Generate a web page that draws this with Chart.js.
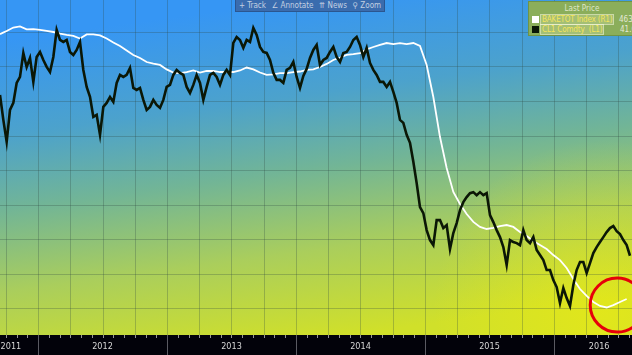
<!DOCTYPE html>
<html>
<head>
<meta charset="utf-8">
<script src="https://cdn.jsdelivr.net/npm/chart.js@4.4.0/dist/chart.umd.min.js"></script>
<style>
  html, body { margin: 0; padding: 0; background: #000; overflow: hidden; }
  #wrap { position: relative; width: 632px; height: 355px; overflow: hidden; }
  canvas { display: block; }
  .toolbar {
    position: absolute; left: 235px; top: 0; width: 150px; height: 12px;
    background: #3a6cae; border: 1px solid #2b5690; border-top: none; box-sizing: border-box;
    font: 8px "DejaVu Sans Condensed", "DejaVu Sans", sans-serif; color: #c3d0e2;
    display: flex; align-items: center; justify-content: space-around; white-space: nowrap;
  }
  .legend {
    position: absolute; left: 528px; top: 1px; width: 110px; height: 35px;
    background: #8bae5b; border: 1px solid #6f9446; box-sizing: border-box;
    font: 8px "DejaVu Sans Condensed", "DejaVu Sans", sans-serif; color: #dfe6c8;
  }
  .legend .lp { position: absolute; left: 0; width: 106px; top: 2px; text-align: center; }
  .legend .row { position: absolute; left: 3px; height: 9px; line-height: 9px; white-space: nowrap; }
  .legend .sw { position: absolute; left: 0; top: 1px; width: 7px; height: 7px; }
  .legend .nm {
    position: absolute; left: 9px; top: 0; padding: 0 1px; color: #f4e45a; letter-spacing: -0.15px;
    background: rgba(255,255,215,0.22); outline: 1px solid rgba(255,255,230,0.55);
  }
  .legend .val { position: absolute; top: 0; color: #e4e8d6; }
</style>
</head>
<body>
<div id="wrap">
  <canvas id="chart" width="632" height="355"></canvas>
  <div class="toolbar"><span>+ Track</span><span>&#8736; Annotate</span><span>&#8648; News</span><span>&#9906; Zoom</span></div>
  <div class="legend">
    <div class="lp">Last Price</div>
    <div class="row" style="top:13px"><span class="sw" style="background:#fff"></span><span class="nm">BAKETOT Index&nbsp;(R1)</span><span class="val" style="left:87px">463</span></div>
    <div class="row" style="top:23px"><span class="sw" style="background:#0b1706"></span><span class="nm">CL1 Comdty&nbsp;&nbsp;(L1)</span><span class="val" style="left:88px">41.6</span></div>
  </div>
</div>
<script>
// time axis, decimal years (left edge ~ mid Sept 2011)
const xMin = 2011.7054;
const xMax = 2016.6047;

// CL1 Comdty (WTI front month, USD) - one reading every ~9.4 days
const oilStart = 2011.7054;
const oilStep = 0.02584;
const oilPrice = [
  89.9, 82.4, 75.8, 85.4, 87.5, 93.5, 95.3, 102.5, 98.3, 101.0,
  93.8, 101.3, 102.8, 100.4, 98.3, 96.8, 101.3, 109.4, 106.4, 105.8,
  106.4, 102.8, 101.9, 103.4, 105.8, 97.4, 92.3, 89.3, 83.3, 83.9,
  77.9, 86.3, 87.5, 89.3, 87.8, 93.5, 95.9, 95.3, 95.9, 98.0,
  92.0, 91.4, 92.0, 88.4, 85.4, 86.3, 88.4, 86.9, 86.0, 88.4,
  92.3, 92.9, 95.9, 97.4, 96.5, 95.9, 92.3, 90.5, 92.9, 95.9,
  93.5, 88.4, 92.3, 95.9, 96.5, 95.3, 92.9, 95.9, 97.4, 95.9,
  105.5, 107.3, 106.4, 104.0, 106.4, 105.8, 110.0, 107.9, 104.3, 102.8,
  102.5, 100.4, 96.5, 94.4, 94.4, 93.5, 97.4, 98.0, 99.8, 95.3,
  92.0, 95.6, 97.7, 101.0, 103.4, 104.9, 98.9, 100.4, 101.0, 102.8,
  104.3, 101.3, 99.8, 102.5, 102.8, 104.3, 106.4, 107.3, 104.9, 101.3,
  104.0, 99.5, 97.4, 95.9, 93.8, 93.8, 92.3, 93.8, 90.8, 87.5,
  82.4, 81.5, 77.9, 75.5, 69.8, 63.4, 56.2, 54.4, 49.3, 46.3,
  44.8, 52.3, 52.3, 49.9, 50.8, 43.6, 48.4, 51.4, 55.3, 57.7,
  59.2, 60.4, 60.7, 59.8, 60.7, 59.8, 60.4, 53.8, 51.7, 49.3,
  47.2, 44.2, 38.8, 46.3, 45.7, 45.4, 44.8, 49.3, 46.3, 45.4,
  47.2, 43.3, 41.8, 40.3, 37.3, 37.3, 34.3, 32.2, 27.4, 31.9,
  28.9, 26.5, 32.8, 37.3, 39.7, 39.7, 36.4, 39.4, 42.4, 44.2,
  45.7, 47.2, 48.7, 49.9, 50.5, 49.0, 48.1, 46.3, 44.8, 41.6
];

// BAKETOT Index (Baker Hughes total rig count) - one reading every ~19 days
const rigStart = 2011.7054;
const rigStep = 0.05168;
const rigCount = [
  1988, 2006, 2026, 2032, 2015, 2017, 2012, 2006, 2000, 1991,
  1983, 1977, 1962, 1986, 1986, 1980, 1962, 1939, 1919, 1893,
  1867, 1849, 1826, 1817, 1809, 1783, 1765, 1762, 1768, 1777,
  1765, 1774, 1774, 1768, 1768, 1768, 1777, 1794, 1783, 1765,
  1751, 1754, 1762, 1762, 1768, 1771, 1780, 1783, 1797, 1815,
  1838, 1852, 1867, 1872, 1878, 1899, 1913, 1925, 1936, 1930,
  1936, 1930, 1936, 1919, 1809, 1623, 1391, 1212, 1073, 1003,
  945, 899, 870, 858, 864, 875, 881, 870, 841, 817,
  788, 765, 742, 707, 678, 632, 568, 510, 470, 435,
  412, 403, 417, 435, 452
];

// axis ranges (both value axes hidden, as in the terminal screenshot)
const oilMin = 17.8, oilMax = 118.4;
const rigMin = 243.5, rigMax = 2185.5;
const rigGrid = [400, 600, 800, 1000, 1200, 1400, 1600, 1800, 2000];

// x axis labels
const yearLabels = ['2011', '2012', '2013', '2014', '2015', '2016'];
const yearLabelPos = [2011.79, 2012.5, 2013.5, 2014.5, 2015.5, 2016.35];
const yearBounds = [2012, 2013, 2014, 2015, 2016];

// red circle around the latest rig count uptick
const circleAt = { x: 2016.49, y: 417 };

const bbgFrame = {
  id: 'bbgFrame',
  beforeDraw(chart) {
    const { ctx, chartArea: a, scales } = chart;
    const x = scales.x, yr = scales.yRig;
    ctx.save();
    // blue -> yellow background, slightly tilted
    const g = ctx.createLinearGradient(a.left + 300, a.top, a.left + 345, a.bottom);
    g.addColorStop(0, 'rgb(54,150,244)');
    g.addColorStop(0.28, 'rgb(76,162,204)');
    g.addColorStop(0.5, 'rgb(114,181,150)');
    g.addColorStop(0.74, 'rgb(170,206,92)');
    g.addColorStop(1, 'rgb(208,224,42)');
    ctx.fillStyle = g;
    ctx.fillRect(a.left, a.top, a.width, a.height);
    const r = ctx.createRadialGradient(a.right - 30, a.bottom - 25, 5, a.right - 30, a.bottom - 25, 170);
    r.addColorStop(0, 'rgba(245,238,10,0.45)');
    r.addColorStop(1, 'rgba(245,238,10,0)');
    ctx.fillStyle = r;
    ctx.fillRect(a.left, a.top, a.width, a.height);

    // grid
    ctx.strokeStyle = 'rgba(45,72,66,0.28)';
    ctx.lineWidth = 1;
    ctx.beginPath();
    rigGrid.forEach(v => {
      const py = Math.round(yr.getPixelForValue(v)) + 0.5;
      ctx.moveTo(a.left, py); ctx.lineTo(a.right, py);
    });
    for (let q = 2011.75; q < xMax; q += 0.25) {
      const px = Math.round(x.getPixelForValue(q)) + 0.5;
      ctx.moveTo(px, a.top); ctx.lineTo(px, a.bottom);
    }
    ctx.stroke();

    // bottom axis strip
    ctx.fillStyle = '#02020a';
    ctx.fillRect(0, a.bottom, chart.width, chart.height - a.bottom);
    ctx.strokeStyle = 'rgba(200,200,200,0.75)';
    ctx.beginPath();
    for (let m = 2011 + 9 / 12; m < xMax; m += 1 / 12) {
      const px = Math.round(x.getPixelForValue(m)) + 0.5;
      ctx.moveTo(px, a.bottom); ctx.lineTo(px, a.bottom + 3);
    }
    ctx.stroke();
    ctx.strokeStyle = '#5a5a62';
    ctx.beginPath();
    yearBounds.forEach(yb => {
      const px = Math.round(x.getPixelForValue(yb)) + 0.5;
      ctx.moveTo(px, a.bottom); ctx.lineTo(px, chart.height);
    });
    ctx.stroke();
    ctx.fillStyle = '#d6d6d6';
    ctx.font = '9px "DejaVu Sans Condensed", "DejaVu Sans", sans-serif';
    ctx.textAlign = 'center';
    ctx.textBaseline = 'middle';
    yearLabels.forEach((t, i) => ctx.fillText(t, x.getPixelForValue(yearLabelPos[i]), a.bottom + 12));
    ctx.restore();
  },
  afterDraw(chart) {
    const { ctx, scales } = chart;
    ctx.save();
    ctx.strokeStyle = '#e6000a';
    ctx.lineWidth = 3;
    ctx.beginPath();
    ctx.arc(scales.x.getPixelForValue(circleAt.x), scales.yRig.getPixelForValue(circleAt.y), 27, 0, Math.PI * 2);
    ctx.stroke();
    ctx.restore();
  }
};

new Chart(document.getElementById('chart'), {
  type: 'line',
  data: {
    datasets: [
      {
        label: 'CL1 Comdty',
        data: oilPrice.map((v, i) => ({ x: oilStart + i * oilStep, y: v })),
        yAxisID: 'yOil',
        borderColor: '#0b1706',
        borderWidth: 2.6,
        pointRadius: 0,
        tension: 0
      },
      {
        label: 'BAKETOT Index',
        data: rigCount.map((v, i) => ({ x: rigStart + i * rigStep, y: v })),
        yAxisID: 'yRig',
        borderColor: '#ffffff',
        borderWidth: 1.8,
        pointRadius: 0,
        tension: 0
      }
    ]
  },
  options: {
    responsive: false,
    animation: false,
    devicePixelRatio: 1,
    layout: { padding: { left: 0, right: 0, top: 0, bottom: 20 } },
    plugins: { legend: { display: false }, tooltip: { enabled: false } },
    scales: {
      x: { type: 'linear', min: xMin, max: xMax, display: false },
      yOil: { position: 'left', min: oilMin, max: oilMax, display: false },
      yRig: { position: 'right', min: rigMin, max: rigMax, display: false }
    }
  },
  plugins: [bbgFrame]
});
</script>
</body>
</html>
